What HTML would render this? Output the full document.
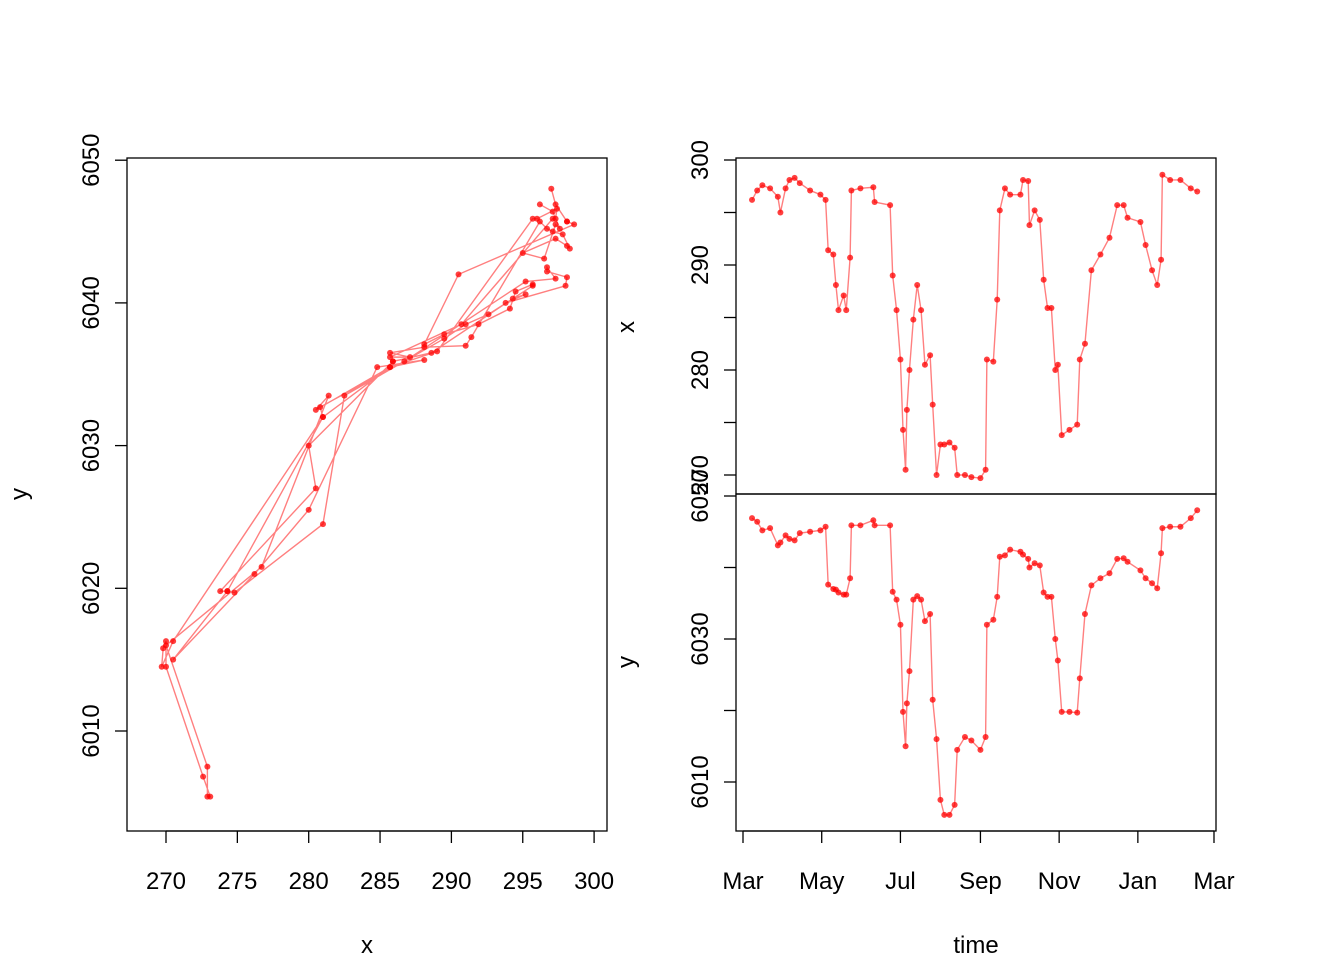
<!DOCTYPE html>
<html><head><meta charset="utf-8"><style>
body{margin:0;background:#fff}
svg{display:block;font-family:"Liberation Sans",Arial,sans-serif}
</style></head><body>
<svg id="c" width="1344" height="960"></svg>
<script>
const days=[7,11,15,21,27,29,33,36,40,44,52,60,64,66,70,72,74,78,80,83,84,91,101,102,114,116,119,122,124,126,127,129,132,135,138,141,145,147,150,153,156,160,164,166,172,177,184,188,189,194,197,199,203,207,215,217,221,222,226,230,233,236,239,242,244,247,253,259,261,265,270,277,284,290,295,298,308,312,317,321,324,325,331,339,347,352];
const xs=[296.2,297.1,297.6,297.3,296.5,295,297.3,298.1,298.3,297.8,297.1,296.7,296.2,291.4,291,288.1,285.7,287.1,285.7,290.7,297.1,297.3,297.4,296,295.7,289,285.7,281,274.3,270.5,276.2,280,284.8,288.1,285.7,280.5,281.4,276.7,270,272.9,272.9,273.1,272.6,270,270,269.8,269.7,270.5,281,280.8,286.7,295.2,297.3,296.7,296.7,298.1,298,293.8,295.2,294.3,288.6,285.9,285.9,280,280.5,273.8,274.3,274.8,281,282.5,289.5,291,292.6,295.7,295.7,294.5,294.1,291.9,289.5,288.1,290.5,298.6,298.1,298.1,297.3,297];
const ys=[6046.9,6046.4,6045.2,6045.5,6043.1,6043.5,6044.5,6044,6043.8,6044.8,6045,6045.2,6045.7,6037.6,6037,6036.9,6036.5,6036.2,6036.2,6038.5,6045.9,6045.9,6046.6,6045.9,6045.9,6036.6,6035.5,6032,6019.8,6015,6021,6025.5,6035.5,6036,6035.5,6032.5,6033.5,6021.5,6016,6007.5,6005.4,6005.4,6006.8,6014.5,6016.3,6015.8,6014.5,6016.3,6032,6032.7,6035.9,6041.5,6041.7,6042.5,6042.2,6041.8,6041.2,6040,6040.6,6040.3,6036.5,6035.9,6035.9,6030,6027,6019.8,6019.8,6019.7,6024.5,6033.5,6037.5,6038.5,6039.2,6041.2,6041.3,6040.8,6039.6,6038.5,6037.8,6037.1,6042,6045.5,6045.7,6045.7,6046.9,6048];
const xTicksL=[270,275,280,285,290,295,300];
const yTicksL=[6010,6020,6030,6040,6050];
const xTicksR=[270,275,280,285,290,295,300];
const xLabR=[270,280,290,300];
const yTicksR=[6010,6020,6030,6040,6050];
const yLabR=[6010,6030,6050];
const monthNames=["Mar","May","Jul","Sep","Nov","Jan","Mar"];
const monthDays=[0,61,122,184,245,306,365];

const S=document.getElementById('c');const NS='http://www.w3.org/2000/svg';
function el(t,a,txt){const e=document.createElementNS(NS,t);for(const k in a)e.setAttribute(k,a[k]);if(txt!==undefined)e.textContent=txt;S.appendChild(e);return e;}
const LX=v=>166+(v-270)*14.27, LY=v=>731-(v-6010)*14.27;
const TX=d=>743+d*1.2904, RXY=v=>475-(v-270)*10.5, RYY=v=>782-(v-6010)*7.15;
const ax={stroke:'#000','stroke-width':1.3,fill:'none'};
let e;
e=el('rect',Object.assign({x:127,y:158,width:480,height:673},ax));


e=el('line',Object.assign({x1:LX(270),x2:LX(300),y1:831,y2:831},ax));
xTicksL.forEach(v=>{el('line',Object.assign({x1:LX(v),x2:LX(v),y1:831,y2:843},ax));
 e=el('text',{x:LX(v),y:889,'font-size':24,'text-anchor':'middle'},v);
 
 });
yTicksL.forEach(v=>{el('line',Object.assign({x1:115,x2:127,y1:LY(v),y2:LY(v)},ax));
 e=el('text',{x:0,y:0,'font-size':24,'text-anchor':'middle',transform:`translate(99,${LY(v)}) rotate(-90)`},v);
 
 });
e=el('text',{x:367,y:953,'font-size':24,'text-anchor':'middle'},'x');


e=el('text',{x:0,y:0,'font-size':24,'text-anchor':'middle',transform:'translate(27,494) rotate(-90)'},'y');


e=el('polyline',{points:xs.map((v,i)=>LX(v)+','+LY(ys[i])).join(' '),fill:'none',stroke:'rgba(255,0,0,0.5)','stroke-width':1.4});


xs.forEach((v,i)=>{e=el('circle',{cx:LX(v),cy:LY(ys[i]),r:3,fill:'rgba(255,0,0,0.75)'});
 
 });
e=el('rect',Object.assign({x:736,y:158,width:480,height:336},ax));


e=el('rect',Object.assign({x:736,y:494,width:480,height:337},ax));


xTicksR.forEach(v=>el('line',Object.assign({x1:724,x2:736,y1:RXY(v),y2:RXY(v)},ax)));
xLabR.forEach(v=>{e=el('text',{x:0,y:0,'font-size':24,'text-anchor':'middle',transform:`translate(708,${RXY(v)}) rotate(-90)`},v);
 
 });
yTicksR.forEach(v=>el('line',Object.assign({x1:724,x2:736,y1:RYY(v),y2:RYY(v)},ax)));
yLabR.forEach(v=>{e=el('text',{x:0,y:0,'font-size':24,'text-anchor':'middle',transform:`translate(708,${RYY(v)}) rotate(-90)`},v);
 
 });
e=el('line',Object.assign({x1:TX(0),x2:TX(365),y1:831,y2:831},ax));
monthDays.forEach((d,i)=>{el('line',Object.assign({x1:TX(d),x2:TX(d),y1:831,y2:843},ax));
 e=el('text',{x:TX(d),y:889,'font-size':24,'text-anchor':'middle'},monthNames[i]);
 
 });
e=el('text',{x:976,y:953,'font-size':24,'text-anchor':'middle'},'time');


e=el('text',{x:0,y:0,'font-size':24,'text-anchor':'middle',transform:'translate(634,327) rotate(-90)'},'x');


e=el('text',{x:0,y:0,'font-size':24,'text-anchor':'middle',transform:'translate(634,662) rotate(-90)'},'y');


e=el('polyline',{points:days.map((d,i)=>TX(d)+','+RXY(xs[i])).join(' '),fill:'none',stroke:'rgba(255,0,0,0.5)','stroke-width':1.4});


e=el('polyline',{points:days.map((d,i)=>TX(d)+','+RYY(ys[i])).join(' '),fill:'none',stroke:'rgba(255,0,0,0.5)','stroke-width':1.4});


days.forEach((d,i)=>{
 e=el('circle',{cx:TX(d),cy:RXY(xs[i]),r:3,fill:'rgba(255,0,0,0.75)'});
 
 
 e=el('circle',{cx:TX(d),cy:RYY(ys[i]),r:3,fill:'rgba(255,0,0,0.75)'});
 
 
});
</script>
</body></html>
